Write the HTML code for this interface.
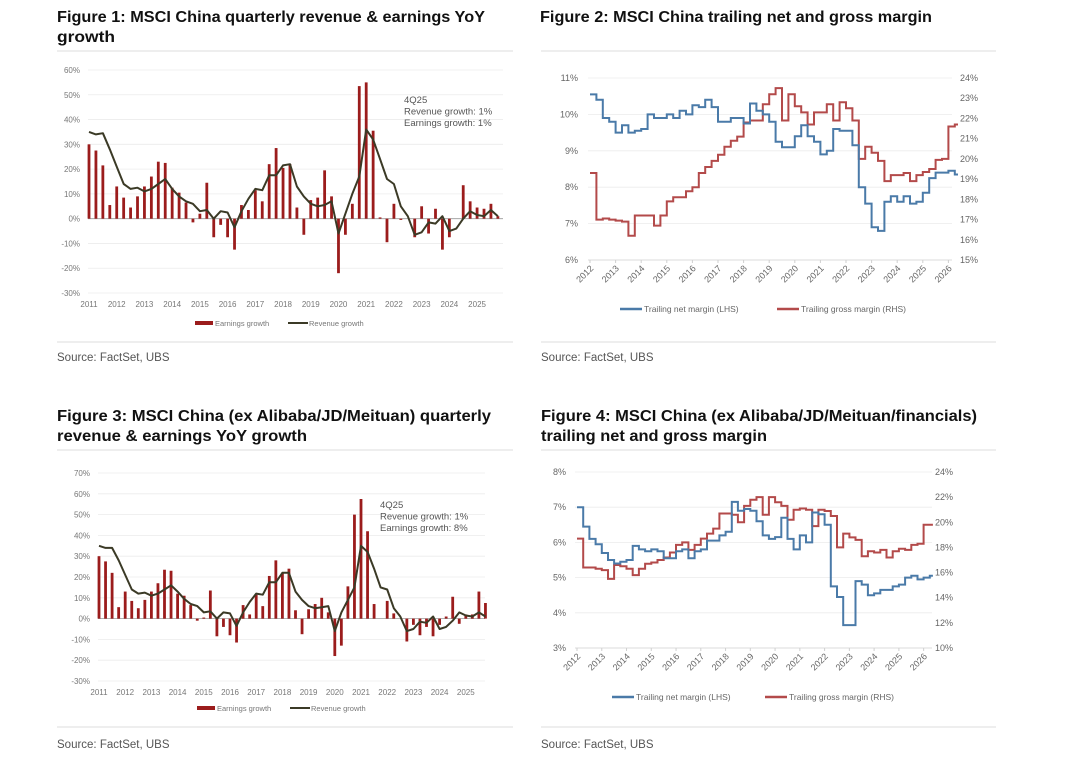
<!DOCTYPE html>
<html><head><meta charset="utf-8"><style>
html,body{margin:0;padding:0;background:#fff}
svg{display:block}
.t{font-family:"Liberation Sans",sans-serif;font-weight:bold;font-size:16px;fill:#111}
.s{font-family:"Liberation Sans",sans-serif;font-size:11.5px;fill:#555}
.ax{font-family:"Liberation Sans",sans-serif;font-size:8px;fill:#777}
.ax2{font-family:"Liberation Sans",sans-serif;font-size:9px;fill:#666}
.an{font-family:"Liberation Sans",sans-serif;font-size:9.5px;fill:#555}
.lg{font-family:"Liberation Sans",sans-serif;font-size:7.5px;fill:#777}
.lg2{font-family:"Liberation Sans",sans-serif;font-size:8.5px;fill:#666}
</style></head><body>
<svg id="page" width="1080" height="781" viewBox="0 0 1080 781">
<rect width="1080" height="781" fill="#fff"/>
<text class="t" x="57" y="22" textLength="428" lengthAdjust="spacingAndGlyphs">Figure 1: MSCI China quarterly revenue &amp; earnings YoY</text>
<text class="t" x="57" y="42" textLength="58" lengthAdjust="spacingAndGlyphs">growth</text>
<line x1="57" y1="51" x2="513" y2="51" stroke="#ddd"/>
<line x1="57" y1="342" x2="513" y2="342" stroke="#ddd"/>
<text class="s" x="57" y="361">Source: FactSet, UBS</text>

<text class="t" x="540" y="22" textLength="392" lengthAdjust="spacingAndGlyphs">Figure 2: MSCI China trailing net and gross margin</text>
<line x1="541" y1="51" x2="996" y2="51" stroke="#ddd"/>
<line x1="541" y1="342" x2="996" y2="342" stroke="#ddd"/>
<text class="s" x="541" y="361">Source: FactSet, UBS</text>

<text class="t" x="57" y="421" textLength="434" lengthAdjust="spacingAndGlyphs">Figure 3: MSCI China (ex Alibaba/JD/Meituan) quarterly</text>
<text class="t" x="57" y="441" textLength="250" lengthAdjust="spacingAndGlyphs">revenue &amp; earnings YoY growth</text>
<line x1="57" y1="450" x2="513" y2="450" stroke="#ddd"/>
<line x1="57" y1="727" x2="513" y2="727" stroke="#ddd"/>
<text class="s" x="57" y="748">Source: FactSet, UBS</text>

<text class="t" x="541" y="421" textLength="436" lengthAdjust="spacingAndGlyphs">Figure 4: MSCI China (ex Alibaba/JD/Meituan/financials)</text>
<text class="t" x="541" y="441" textLength="226" lengthAdjust="spacingAndGlyphs">trailing net and gross margin</text>
<line x1="541" y1="450" x2="996" y2="450" stroke="#ddd"/>
<line x1="541" y1="727" x2="996" y2="727" stroke="#ddd"/>
<text class="s" x="541" y="748">Source: FactSet, UBS</text>
</svg>
<script>
const ch1Earnings=[30,27.5,21.5,5.5,13,8.5,4.5,9,13,17,23,22.5,12.5,10.5,6.5,-1.5,2,14.5,-7.5,-2.5,-7.5,-12.5,5.5,3.5,11.5,7,22,28.5,20.5,22,4.5,-6.5,7.5,8.5,19.5,9,-22,-6.5,6,53.5,55,35.5,0.5,-9.5,6,-0.5,0,-7.5,5,-6,4,-12.5,-7.5,0,13.5,7,4.5,4,6,1];
const ch1Revenue=[35,34,34.5,28,21,14,12,12.5,11,12,14,16,12,9,7,6,3,3.5,0,3,2.5,-3.5,3,8,12,11.5,17.5,17.5,21.5,22,13,9,6,5,5.5,7,-6,2,10,17,36,32,24,16,14,5,1,-6.5,-5.5,-1.5,-2,1,-5,-4,0,3,1.5,1,3.5,1];
const ch3Earnings=[30,27.5,22,5.5,13,8.5,5,9,13,17,23.5,23,12,11,6.5,-1,0.5,13.5,-8.5,-4,-8,-11.5,6.5,2,11.5,6,20.5,28,22,24,4,-7.5,4.5,7,10,3,-18,-13,15.5,50,57.5,42,7,0,8.5,2.5,0,-11,-3,-8,-4,-8.5,-3,1,10.5,-2.5,2,2,13,7.5];
const ch3Revenue=[35,34,34,28,21,14,12,12.5,11,12,14,16,13,9.5,7,6,3,3.5,0,3,2.5,-3.5,3,8,12,11.5,17.5,17.5,22,22,13,9,6,5,5.5,6,-6,3,9,15,35,32,24,15,14,5,1,-6,-5,-1.5,-2,1,-5,-4,-1,3,1.5,1,3,1];
const growthYears=[2011,2012,2013,2014,2015,2016,2017,2018,2019,2020,2021,2022,2023,2024,2025];
const ch1Ticks=[60,50,40,30,20,10,0,-10,-20,-30];
const ch3Ticks=[70,60,50,40,30,20,10,0,-10,-20,-30];
const ch2Net=[10.55,10.4,9.9,9.8,9.5,9.7,9.5,9.55,9.6,10.0,9.9,9.9,10.0,9.9,10.1,10.0,10.25,10.2,10.4,10.2,9.8,9.8,9.9,9.9,9.75,10.3,10.1,10.0,9.8,9.25,9.1,9.1,9.4,9.7,9.4,9.25,8.9,9.0,9.6,9.55,9.55,9.15,8.0,7.55,6.9,6.8,7.6,7.75,7.6,7.75,7.55,7.6,7.85,8.25,8.4,8.4,8.45,8.35];
const ch2Gross=[19.3,17.0,17.05,17.0,16.95,16.9,16.2,17.2,17.2,17.2,16.7,17.2,17.9,18.1,18.1,18.4,18.6,19.3,19.6,19.9,20.2,20.6,20.9,21.1,21.8,21.9,21.9,22.7,23.2,23.5,21.9,23.2,22.6,22.3,21.7,22.3,22.3,22.7,21.9,22.8,22.5,21.9,20.0,20.6,20.3,19.9,18.9,19.2,19.2,19.3,18.9,19.2,19.35,19.5,19.95,20.0,21.6,21.7];
const ch4Net=[7.0,6.45,6.1,5.95,5.7,5.5,5.4,5.45,5.5,5.9,5.8,5.75,5.8,5.75,5.55,5.55,5.75,5.8,5.55,5.75,5.8,6.05,6.05,6.2,6.3,7.15,6.9,6.95,6.9,6.6,6.2,6.1,6.15,6.7,6.1,5.8,6.2,6.0,6.85,6.8,6.5,4.75,4.45,3.65,3.65,4.9,4.8,4.5,4.55,4.65,4.65,4.75,4.8,5.0,5.05,4.95,5.0,5.05];
const ch4Gross=[18.7,16.4,16.4,16.3,16.2,15.5,16.6,16.5,16.3,15.8,16.3,16.7,16.8,17.0,17.2,17.6,18.2,18.4,17.8,18.2,18.7,19.1,19.5,20.7,20.7,20.6,20.0,21.3,21.8,22.0,20.6,22.0,21.6,21.3,20.2,21.0,21.1,21.0,19.7,21.0,20.9,20.5,18.0,19.1,18.8,18.6,17.3,17.7,17.6,17.8,17.2,17.7,17.9,17.8,18.2,18.3,19.8,19.8];
const marginYears=[2012,2013,2014,2015,2016,2017,2018,2019,2020,2021,2022,2023,2024,2025,2026];
const ch2LeftTicks=[11,10,9,8,7,6];
const ch2RightTicks=[24,23,22,21,20,19,18,17,16,15];
const ch4LeftTicks=[8,7,6,5,4,3];
const ch4RightTicks=[24,22,20,18,16,14,12,10];

const NS='http://www.w3.org/2000/svg';
const svg=document.getElementById('page');
function mk(tag,attrs,parent,txt){const e=document.createElementNS(NS,tag);for(const k in attrs)e.setAttribute(k,attrs[k]);if(txt!==undefined)e.textContent=txt;(parent||svg).appendChild(e);return e;}

function growthChart(o){
  const g=mk('g',{});
  
  
  const yMax=o.ticks[0],yMin=o.ticks[o.ticks.length-1];
  const y=v=>o.yTop+(yMax-v)/(yMax-yMin)*(o.yBot-o.yTop);
  const x=i=>o.x0+i*o.q;
  o.ticks.forEach(t=>{
    const gl=mk('line',{x1:o.left,x2:o.right,y1:y(t),y2:y(t),stroke:t===0?'#999':'#ececec','stroke-width':0.8},g);
    
    
    const tl=mk('text',{x:o.labelX,y:y(t)+3,'text-anchor':'end',class:'ax'},g,t+'%');
    
    
  });
  growthYears.forEach((yr,k)=>{
    const tl=mk('text',{x:x(k*4),y:o.yBot+14,'text-anchor':'middle',class:'ax'},g,yr);
    
    
  });
  o.earn.forEach((v,i)=>{
    const b=mk('rect',{x:x(i)-1.4,y:Math.min(y(v),y(0)),width:2.8,height:Math.abs(y(v)-y(0)),fill:'#9b1c1c'},g);
    
    
  });
  const p=o.rev.map((v,i)=>(i?'L':'M')+x(i).toFixed(1)+','+y(v).toFixed(1)).join('');
  const ln=mk('path',{d:p,fill:'none',stroke:'#3b3a26','stroke-width':2,'stroke-linejoin':'round'},g);
  
  
  o.ann.forEach((s,k)=>{
    const a=mk('text',{x:o.annX,y:o.annY+k*11.5,class:'an'},g,s);
    
    
  });
  const ly=o.legY;
  const s1=mk('rect',{x:o.legX,y:ly-2,width:18,height:4,fill:'#9b1c1c'},g);
  
  
  const l1=mk('text',{x:o.legX+20,y:ly+3,class:'lg'},g,'Earnings growth');
  
  
  const s2=mk('line',{x1:o.legX+93,x2:o.legX+113,y1:ly,y2:ly,stroke:'#3b3a26','stroke-width':2},g);
  
  
  const l2=mk('text',{x:o.legX+114,y:ly+3,class:'lg'},g,'Revenue growth');
  
  
}

function marginChart(o){
  const g=mk('g',{});
  
  
  const lMax=o.lt[0],lMin=o.lt[o.lt.length-1],rMax=o.rt[0],rMin=o.rt[o.rt.length-1];
  const yl=v=>o.yTop+(lMax-v)/(lMax-lMin)*(o.yBot-o.yTop);
  const yr=v=>o.yTop+(rMax-v)/(rMax-rMin)*(o.yBot-o.yTop);
  const qx=i=>o.x0+i*o.ys/4;
  o.lt.forEach(t=>{
    const gl=mk('line',{x1:o.left,x2:o.right,y1:yl(t),y2:yl(t),stroke:t===lMin?'#cfcfcf':'#ececec','stroke-width':0.8},g);
    
    
    const tl=mk('text',{x:o.lx,y:yl(t)+3,'text-anchor':'end',class:'ax2'},g,t+'%');
    
    
  });
  o.rt.forEach(t=>{
    const tl=mk('text',{x:o.rx,y:yr(t)+3,class:'ax2'},g,t+'%');
    
    
  });
  marginYears.forEach((yv,k)=>{
    const xx=o.x0+k*o.ys;
    const tk=mk('line',{x1:xx,x2:xx,y1:o.yBot,y2:o.yBot+3,stroke:'#cfcfcf'},g);
    
    
    const tl=mk('text',{x:xx+4,y:o.yBot+9,'text-anchor':'end',class:'ax2',transform:'rotate(-45 '+(xx+4)+' '+(o.yBot+9)+')'},g,yv);
    
    
  });
  function step(arr,fy){let d='';arr.forEach((v,i)=>{const x1=qx(i),x2=qx(i+1)-(i===arr.length-1?o.ys/8:0);d+=(i?'L':'M')+x1.toFixed(1)+','+fy(v).toFixed(1)+'L'+x2.toFixed(1)+','+fy(v).toFixed(1);});return d;}
  const gp=mk('path',{d:step(o.gross,yr),fill:'none',stroke:'#b34a4a','stroke-width':2},g);
  
  
  const np=mk('path',{d:step(o.net,yl),fill:'none',stroke:'#4a7aa8','stroke-width':2},g);
  
  
  const ly=o.legY;
  const s1=mk('line',{x1:o.legX,x2:o.legX+22,y1:ly,y2:ly,stroke:'#4a7aa8','stroke-width':2.5},g);
  
  
  const l1=mk('text',{x:o.legX+24,y:ly+3,class:'lg2'},g,'Trailing net margin (LHS)');
  
  
  const s2=mk('line',{x1:o.legX+o.gap,x2:o.legX+o.gap+22,y1:ly,y2:ly,stroke:'#b34a4a','stroke-width':2.5},g);
  
  
  const l2=mk('text',{x:o.legX+o.gap+24,y:ly+3,class:'lg2'},g,'Trailing gross margin (RHS)');
  
  
}

growthChart({name:'figure-1-chart',earn:ch1Earnings,rev:ch1Revenue,ticks:ch1Ticks,yTop:70,yBot:293,x0:89,q:6.93,left:88,right:503,labelX:80,annX:404,annY:103,ann:['4Q25','Revenue growth: 1%','Earnings growth: 1%'],legX:195,legY:323});
growthChart({name:'figure-3-chart',earn:ch3Earnings,rev:ch3Revenue,ticks:ch3Ticks,yTop:473,yBot:681,x0:99,q:6.55,left:98,right:485,labelX:90,annX:380,annY:508,ann:['4Q25','Revenue growth: 1%','Earnings growth: 8%'],legX:197,legY:708});
marginChart({name:'figure-2-chart',net:ch2Net,gross:ch2Gross,lt:ch2LeftTicks,rt:ch2RightTicks,yTop:78,yBot:260,x0:590,ys:25.6,left:588,right:952,lx:578,rx:960,legX:620,legY:309,gap:157});
marginChart({name:'figure-4-chart',net:ch4Net,gross:ch4Gross,lt:ch4LeftTicks,rt:ch4RightTicks,yTop:472,yBot:648,x0:577,ys:24.76,left:575,right:932,lx:566,rx:935,legX:612,legY:697,gap:153});
</script>
</body></html>
